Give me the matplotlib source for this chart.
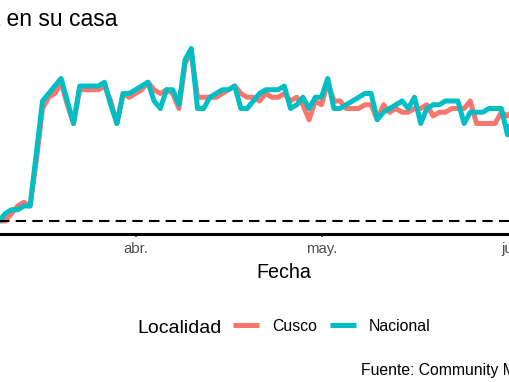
import matplotlib
matplotlib.use("Agg")
import matplotlib.pyplot as plt
import matplotlib.dates as mdates
import pandas as pd
from matplotlib.lines import Line2D

plt.rcParams['font.family'] = ['Liberation Sans', 'DejaVu Sans']

# ---------------- data ----------------
start_date = "2020-03-08"
nacional = [0, 0,
            0, 2, 3, 3, 4, 4, 18, 32, 34, 36, 38, 32, 26, 36, 36, 36, 36, 37, 31, 26, 34, 34,
            35, 36, 37, 32, 30, 35, 35, 31, 43, 46,
            30, 30, 33, 34, 35, 35, 36, 30, 30, 32,
            34, 35, 35, 35, 36, 30, 31, 33, 30, 33,
            33, 38, 30, 30, 31, 32, 33, 34, 34, 27,
            29, 30, 31, 32, 30, 33, 26, 30, 31, 31,
            32, 32, 32, 26, 29, 29, 29, 30, 30, 30, 23,
            30]
cusco = [0, -1,
         0, 0, 2, 4, 5, 4, 16, 30, 33, 34, 37, 31, 26, 35, 35, 35, 35, 36, 32, 26, 34, 33,
         34, 35, 37, 35, 34, 35, 34, 30, 42, 45,
         33, 33, 33, 33, 34, 35, 36, 34, 33, 33,
         32, 34, 33, 33, 34, 32, 33, 31, 27, 32,
         31, 37, 32, 32, 30, 30, 30, 31, 31, 27,
         31, 29, 30, 29, 29, 30, 30, 31, 28, 29,
         29, 30, 30, 30, 32, 26, 26, 26, 26, 29, 28,
         30]
series_names = ["Cusco", "Nacional"]
tick_dates = ["2020-04-01", "2020-05-01", "2020-06-01"]
tick_labels = ["abr.", "may.", "jun."]
title_text = "Tiempo de permanencia en su casa"
xlabel_text = "Fecha"
legend_title = "Localidad"
caption_text = "Fuente: Community Mobility Reports"

dates = pd.date_range(start_date, periods=len(nacional), freq="D")

# ---------------- figure ----------------
W, H = 510, 382
fig = plt.figure(figsize=(W / 100, H / 100), dpi=100)
fig.patch.set_facecolor("white")

px_day = 6.2
apr1_px = 135.5
ax_left_px, ax_right_px = -60, 627
ax_top_px, ax_bot_px = 40, 234
zero_px = 221
px_unit = 3.75

ax = fig.add_axes([ax_left_px / W, 1 - ax_bot_px / H,
                   (ax_right_px - ax_left_px) / W, (ax_bot_px - ax_top_px) / H])
apr1 = mdates.date2num(pd.Timestamp("2020-04-01"))
ax.set_xlim(apr1 + (ax_left_px - apr1_px) / px_day, apr1 + (ax_right_px - apr1_px) / px_day)
ax.set_ylim(-(ax_bot_px - zero_px) / px_unit, (zero_px - ax_top_px) / px_unit)

c_cusco = "#F8766D"
c_nac = "#00BFC4"
ax.plot(dates, cusco, color=c_cusco, lw=3.6, solid_joinstyle="round", solid_capstyle="butt", zorder=2)
ax.plot(dates, nacional, color=c_nac, lw=3.6, solid_joinstyle="round", solid_capstyle="butt", zorder=2.1)
ax.axhline(0, color="black", lw=1.5, ls=(0, (5, 3)), zorder=3)

for s in ["left", "right", "top"]:
    ax.spines[s].set_visible(False)
ax.spines["bottom"].set_linewidth(2.2)
ax.spines["bottom"].set_color("black")
ax.set_facecolor("white")

ax.set_xticks([mdates.date2num(pd.Timestamp(d)) for d in tick_dates])
ax.set_xticklabels(tick_labels)
ax.tick_params(axis="x", length=2.4, width=1.1, color="#333333",
               labelsize=10.8, labelcolor="#4D4D4D", pad=3.5)
ax.set_yticks([])

# title (clipped at left like the reference)
fig.text(118 / W, 1 - 26 / H, title_text, ha="right", va="baseline",
         fontsize=16.5, color="black")

# x label
fig.text(283.5 / W, 1 - 278 / H, xlabel_text, ha="center", va="baseline",
         fontsize=14.2, color="black")

# legend
fig.text(137 / W, 1 - 333 / H, legend_title, ha="left", va="baseline",
         fontsize=14, color="black")
handles = [Line2D([], [], color=c_cusco, lw=3.6, solid_capstyle="butt"),
           Line2D([], [], color=c_nac, lw=3.6, solid_capstyle="butt")]
fig.legend(handles, series_names, loc="center left",
           bbox_to_anchor=(233 / W, 1 - 326.5 / H), ncol=2, frameon=False,
           fontsize=11.4, handlelength=1.65, handletextpad=0.8,
           columnspacing=0.82, borderpad=0, borderaxespad=0)

# caption
fig.text(361 / W, 1 - 375 / H, caption_text, ha="left", va="baseline",
         fontsize=11.3, color="black")

fig.savefig("out.png", dpi=100, facecolor="white")
